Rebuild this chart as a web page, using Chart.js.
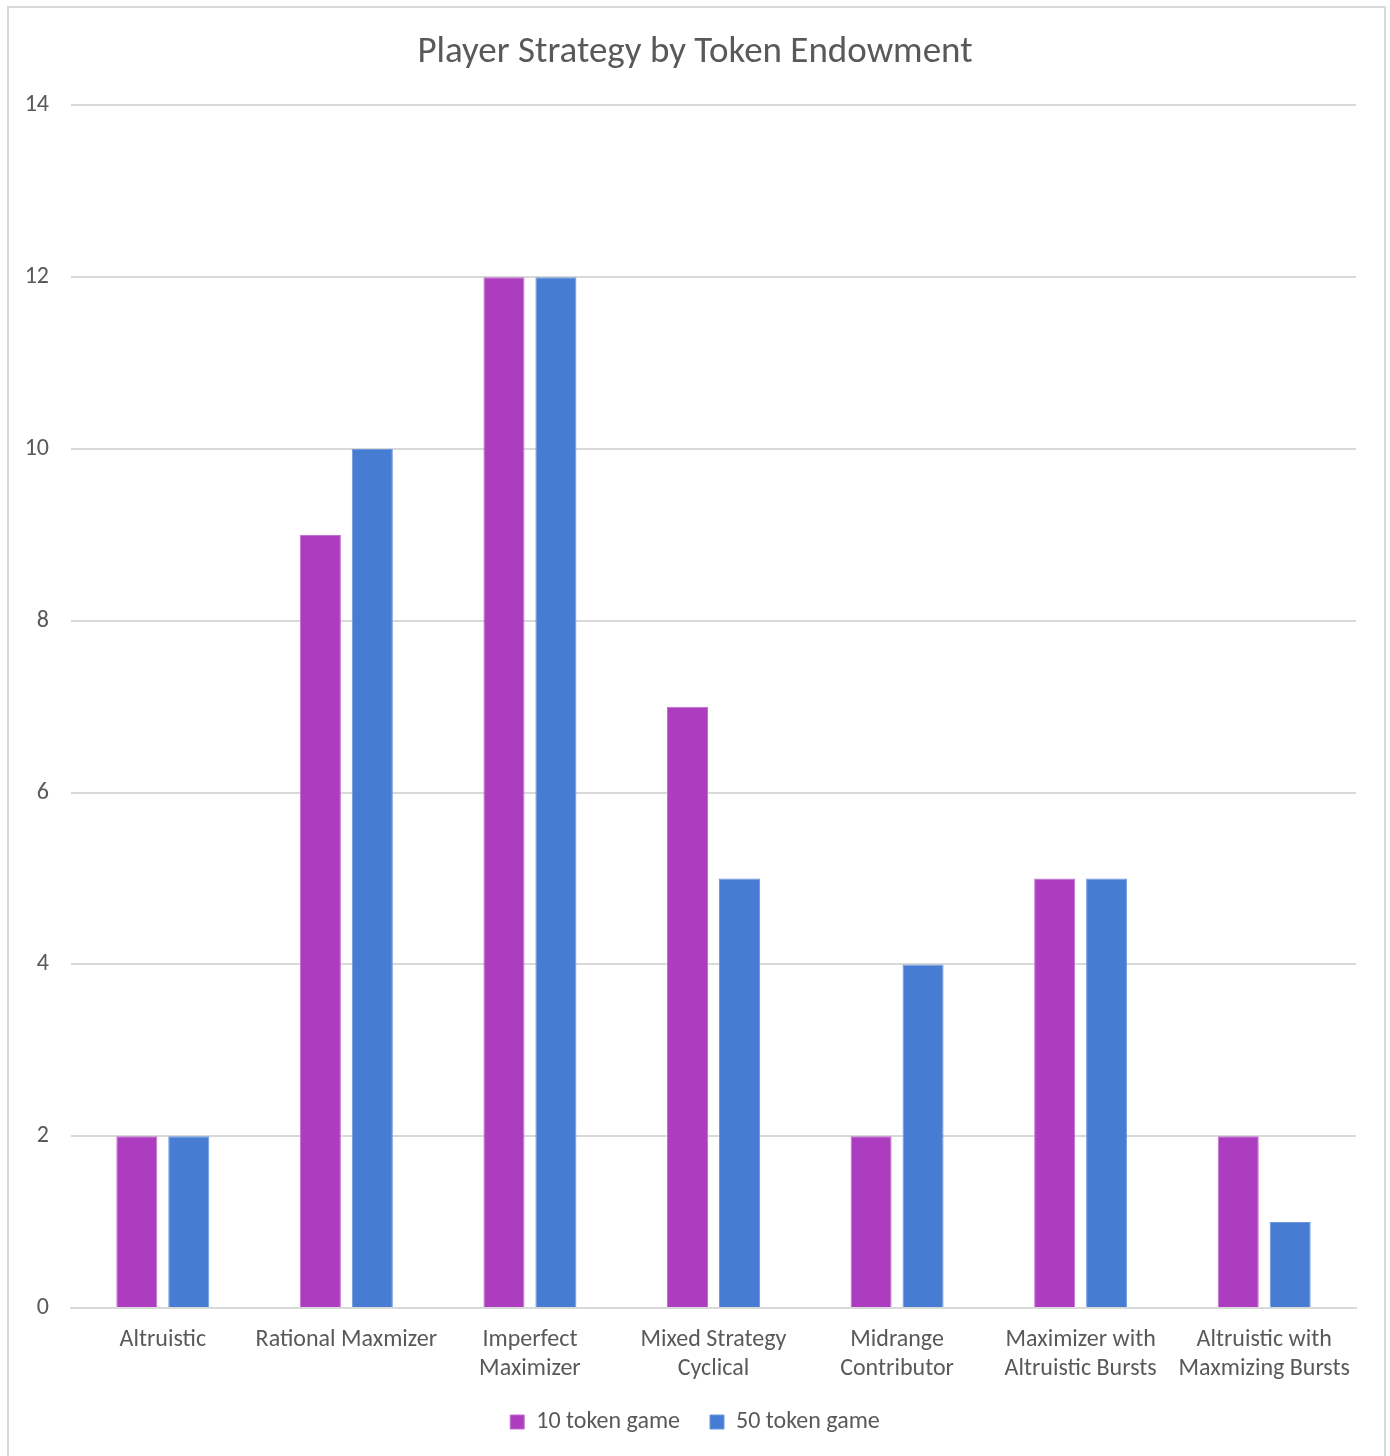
<!DOCTYPE html>
<html>
<head>
<meta charset="utf-8">
<script src="https://cdn.jsdelivr.net/npm/chart.js@4/dist/chart.umd.min.js"></script>
<style>
  html, body { margin: 0; padding: 0; background: #ffffff; }
  #wrap { position: absolute; left: 0; top: 0; width: 1390px; height: 1456px; }
</style>
</head>
<body>
<div id="wrap"><canvas id="chart" width="1390" height="1456"></canvas></div>
<script>
const categories = [
  "Altruistic",
  "Rational Maxmizer",
  ["Imperfect", "Maximizer"],
  ["Mixed Strategy", "Cyclical"],
  ["Midrange", "Contributor"],
  ["Maximizer with", "Altruistic Bursts"],
  ["Altruistic with", "Maxmizing Bursts"]
];
const tenTokenGame = [2, 9, 12, 7, 2, 5, 2];
const fiftyTokenGame = [2, 10, 12, 5, 4, 5, 1];
const seriesNames = ["10 token game", "50 token game"];
const yTicks = [0, 2, 4, 6, 8, 10, 12, 14];

const FONT = "Carlito, Calibri, Lato, 'Open Sans', sans-serif";
const TEXT = "#595959";

// outer frame around the chart object
const framePlugin = {
  id: "frame",
  beforeDraw(chart) {
    const c = chart.ctx;
    c.save();
    c.fillStyle = "#ffffff";
    c.fillRect(0, 0, chart.width, chart.height);
    c.strokeStyle = "#d9d9d9";
    c.lineWidth = 2;
    c.beginPath();
    c.moveTo(8, chart.height + 5);
    c.lineTo(8, 7);
    c.lineTo(1385, 7);
    c.lineTo(1385, chart.height + 5);
    c.stroke();
    c.restore();
  }
};

new Chart(document.getElementById("chart"), {
  type: "bar",
  data: {
    labels: categories,
    datasets: [
      {
        label: seriesNames[0],
        data: tenTokenGame,
        backgroundColor: "#ac3dbf",
        borderColor: "#c06fd0",
        borderWidth: 1
      },
      {
        label: seriesNames[1],
        data: fiftyTokenGame,
        backgroundColor: "#467dd3",
        borderColor: "#6d98dc",
        borderWidth: 1
      }
    ]
  },
  options: {
    responsive: false,
    animation: false,
    devicePixelRatio: 1,
    categoryPercentage: 0.566,
    barPercentage: 0.79,
    layout: { padding: { left: 0, right: 0, top: 0, bottom: 12 } },
    plugins: {
      title: {
        display: true,
        text: "Player Strategy by Token Endowment",
        color: TEXT,
        font: { family: FONT, size: 37, weight: "normal" },
        padding: { top: 31, bottom: 30 }
      },
      legend: {
        display: true,
        position: "bottom",
        labels: {
          color: TEXT,
          font: { family: FONT, size: 24 },
          boxWidth: 14,
          boxHeight: 14,
          padding: 30,
          useBorderRadius: false
        }
      },
      tooltip: { enabled: false }
    },
    scales: {
      x: {
        grid: { display: false, drawTicks: false },
        border: { display: true, color: "#d9d9d9", width: 2 },
        ticks: {
          color: TEXT,
          font: { family: FONT, size: 24, lineHeight: 1.2 },
          padding: 18,
          maxRotation: 0,
          autoSkip: false
        },
        afterFit(scale) { scale.height = 72; }
      },
      y: {
        min: 0,
        max: 14,
        afterBuildTicks(scale) { scale.ticks = yTicks.map(v => ({ value: v })); },
        grid: { color: "#d9d9d9", lineWidth: 2, drawTicks: false },
        border: { display: false },
        ticks: {
          color: TEXT,
          font: { family: FONT, size: 24 },
          padding: 22
        },
        afterFit(scale) { scale.width = 71; }
      },
      // empty right-hand margin axis so the plot ends short of the frame
      yRight: {
        position: "right",
        min: 0,
        max: 14,
        grid: { display: false, drawTicks: false },
        border: { display: false },
        ticks: { display: false },
        afterFit(scale) { scale.width = 34; }
      }
    }
  },
  plugins: [framePlugin]
});
</script>
</body>
</html>
